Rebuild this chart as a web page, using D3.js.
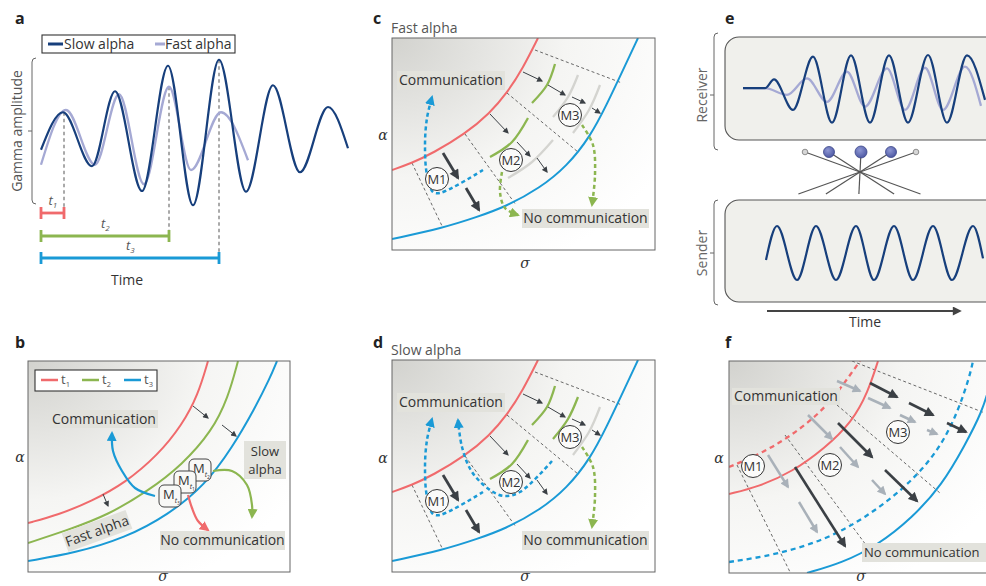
<!DOCTYPE html>
<html><head><meta charset="utf-8">
<script src="https://cdn.jsdelivr.net/npm/d3@7"></script>
<style>
body{margin:0;background:#fff;}
svg{display:block;font-family:"Open Sans",sans-serif;}
</style></head><body>
<svg id="chart" width="986" height="586"></svg>
<script>
// ================= DATA =================
// Panel a : time (ms, arbitrary) vs gamma amplitude (normalised)
const slowAlpha = [[0,-0.25],[22,0.25],[51,-0.47],[74,0.53],[101,-0.80],[127,0.87],[152,-0.99],[178,0.95],[205,-0.81],[232,0.61],[259,-0.55],[287,0.32],[307,-0.23]];
const fastAlpha = [[0,-0.45],[25,0.28],[54,-0.45],[78,0.49],[103,-0.71],[128,0.59],[150,-0.52],[180,0.25],[207,-0.39]];
const tMarkNames = ["1","2","3"];
const tMarkTimes = [23,128,178];
const tMarkPeaks = [0.25,0.59,0.95];

// Panel e : receiver / sender gamma
const recvSlow = [[0,0.04],[22,0.04],[31,0.30],[50,-0.61],[70,0.98],[89,-0.99],[108,1.02],[127,-0.99],[146,1.02],[165,-0.99],[185,1.03],[204,-0.99],[224,1.02],[242,-0.31]];
const recvFast = [[0,0.04],[22,0.04],[44,-0.16],[64,0.33],[84,-0.37],[104,0.53],[122,-0.51],[144,0.63],[162,-0.61],[182,0.65],[200,-0.61],[222,0.68],[238,-0.49]];
const sender = [[23,-0.26],[34,1],[54,-1],[73,1],[93,-1],[113,1],[131,-1],[151,1],[170,-1],[190,1],[209,-1],[230,1],[240,-0.2]];
const synOffset = [-55,-31,1,31,56];
const synRadius = [2.8,5.5,6,5.5,2.8];

// Panel b : (sigma, alpha) boundaries at t1,t2,t3
const bT1 = [[0,49],[30,57],[64,71],[97,89],[130,117],[154,147],[170,177],[180,211]];
const bT2 = [[0,29],[40,42],[80,57],[120,81],[154,107],[184,141],[200,174],[210,211]];
const bT3 = [[0,11],[47,19],[97,34],[140,57],[177,87],[204,124],[227,164],[242,194],[249,211]];
const bSmallArrows = [[[165,166],[180,154]],[[194,147],[208,136]],[[75,78],[80,66]]];
const bCommArrow = [[127,76],[107,84],[94,101],[85,121],[84,139]];
const bNoCommArrow = [[160,77],[164,64],[170,51],[180,42]];
const bSlowArrow = [[185,101],[204,101],[219,87],[224,67],[224,55]];
const bMemSub = ["2","1","3"];
const bMemPos = [[172,102],[157,90],[142,76]];

// Panels c/d : (sigma, alpha)
const cRed = [[0,80],[20,87],[41,97],[73,116],[98,137],[115,157],[131,182],[146,212]];
const cBlue = [[0,11],[51,22],[85,33],[113,43],[148,62],[175,84],[198,113],[215,146],[231,180],[246,212]];
const cDashed = [[[20,87],[51,22]],[[73,116],[124,45]],[[115,157],[186,98]],[[143,200],[230,167]]];
const cThickArrows = [[[51,97],[66,72]],[[74,62],[87,40]]];
const cThinArrows = [[[98,136],[116,117]],[[125,108],[138,94]],[[145,92],[155,78]],[[131,178],[150,169]],[[156,165],[173,155]],[[180,153],[193,147]],[[200,142],[208,137]]];
const arcA1 = [[98,93],[120,108],[136,132]];
const arcA2 = [[140,147],[155,165],[163,186]];
const arcG1 = [[116,72],[140,88],[161,110]];
const arcG2 = [[161,133],[176,153],[186,175]];
const arcG3 = [[181,117],[197,140],[208,165]];
const cArcs = [arcA1,arcA2,arcG1,arcG2,arcG3];
const cArcColors = ["green","green","grey","grey","grey"];
const dArcs = [arcA1,arcA2,arcG2,arcG3];
const dArcColors = ["green","green","green","grey"];
const memNames = ["M1","M2","M3"];
const cMemPos = [[45,71],[119,90],[178,135]];
const cBlueM1 = [[91,80],[48,57],[41,58],[35,75],[33,105],[35,132],[40,153]];
const dBlueM2 = [[160,111],[128,80],[112,76],[98,82],[80,100],[70,125],[66,152]];
const cGreenM2 = [[110,78],[108,58],[113,42],[126,35]];
const cGreenM3 = [[190,125],[201,105],[203,75],[200,45]];

// Panel f : (sigma, alpha)
const fRedDash = [[0,106],[29,118],[59,135],[89,158],[109,181],[126,205],[131,212]];
const fRed = [[0,79],[29,86],[63,101],[96,125],[123,151],[139,181],[149,212]];
const fBlueDash = [[0,11],[46,18],[96,33],[136,55],[176,85],[209,121],[229,161],[241,198],[244,212]];
const fBlue = [[78,0],[113,10],[149,28],[183,55],[213,88],[236,128],[253,161],[261,188],[266,212]];
const fDashed = [[[8,108],[61,1]],[[56,138],[137,28]],[[108,168],[211,80]],[[123,212],[256,160]]];
const fDarkArrows = [[[66,106],[116,27]],[[109,150],[143,116]],[[156,103],[188,72]],[[141,190],[168,176]],[[180,170],[204,158]],[[218,150],[237,141]]];
const fGreyArrows = [[[39,118],[59,86]],[[70,71],[88,41]],[[79,158],[103,134]],[[111,126],[129,106]],[[143,93],[156,79]],[[108,192],[131,182]],[[139,175],[161,165]],[[171,158],[186,151]],[[198,143],[208,139]]];
const fMemPos = [[24,107],[101,108],[169,141]];

// ================= DRAWING =================
const C = {navy:"#173f7c", lav:"#a5a9d4", red:"#f06a6c", green:"#8cb650", blue:"#1a9ad6",
  dark:"#3b4045", grey:"#a9b1b9", arcGrey:"#d4d4d0", text:"#333", label:"#e2e2dc", soft:"#555"};
const FS = 14;
const svg = d3.select("#chart");
const defs = svg.append("defs");

function marker(id, color, w, h){
  defs.append("marker").attr("id",id).attr("viewBox","0 0 10 10").attr("refX",8).attr("refY",5)
    .attr("markerWidth",w).attr("markerHeight",h).attr("markerUnits","userSpaceOnUse").attr("orient","auto")
    .append("path").attr("d","M0,0L10,5L0,10z").attr("fill",color);
}
marker("mDarkS", C.dark, 7, 6);
marker("mDarkL", C.dark, 11, 10);
marker("mGrey", C.grey, 10, 9);
marker("mBlue", C.blue, 10, 10);
marker("mGreen", C.green, 10, 10);
marker("mRed", C.red, 10, 10);
marker("mTime", "#444", 11, 9);

const rg = defs.append("radialGradient").attr("id","bg").attr("cx",0).attr("cy",0).attr("r",1.2).attr("fx",0).attr("fy",0);
rg.append("stop").attr("offset",0).attr("stop-color","#d2d2ce");
rg.append("stop").attr("offset",0.55).attr("stop-color","#f5f5f3");
rg.append("stop").attr("offset",1).attr("stop-color","#ffffff");
const ballG = defs.append("radialGradient").attr("id","ball").attr("cx",0.4).attr("cy",0.35).attr("r",0.7);
ballG.append("stop").attr("offset",0).attr("stop-color","#8e97d4");
ballG.append("stop").attr("offset",1).attr("stop-color","#4a55a0");

function letter(x,y,t){
  svg.append("text").attr("x",x).attr("y",y).attr("font-size",16).attr("font-weight",700).attr("fill","#222").text(t);
}
function greek(x,y,t){
  svg.append("text").attr("x",x).attr("y",y).attr("text-anchor","middle").attr("font-family","'DejaVu Serif',serif")
    .attr("font-style","italic").attr("font-size",14).attr("fill","#333").text(t);
}
function bracket(x, y0, y1, ytick){
  svg.append("path").attr("d",`M${x+4},${y0} Q${x},${y0} ${x},${y0+4} L${x},${y1-4} Q${x},${y1} ${x+4},${y1}`)
    .attr("fill","none").attr("stroke","#666").attr("stroke-width",1);
  svg.append("line").attr("x1",x-4).attr("x2",x).attr("y1",ytick).attr("y2",ytick).attr("stroke","#666");
}

function makePanel(x0, yTop, w, h, id){
  const x = d3.scaleLinear().domain([0,w]).range([x0,x0+w]);
  const y = d3.scaleLinear().domain([0,h]).range([yTop+h,yTop]);
  defs.append("clipPath").attr("id",id).append("rect").attr("x",x0).attr("y",yTop).attr("width",w).attr("height",h);
  const g = svg.append("g");
  g.append("rect").attr("x",x0).attr("y",yTop).attr("width",w).attr("height",h).attr("fill","url(#bg)");
  const inner = g.append("g").attr("clip-path",`url(#${id})`);
  const top = g.append("g");
  const line = (curve) => d3.line().x(d=>x(d[0])).y(d=>y(d[1])).curve(curve || d3.curveCatmullRom.alpha(0.5));
  const frame = () => g.append("rect").attr("x",x0).attr("y",yTop).attr("width",w).attr("height",h)
     .attr("fill","none").attr("stroke","#666").attr("stroke-width",1);
  return {x,y,g,inner,top,line,frame};
}
function curve(p, data, color, width, dash){
  p.inner.append("path").attr("d",p.line(d3.curveBasis)(data)).attr("fill","none").attr("stroke",color)
    .attr("stroke-width",width).attr("stroke-dasharray",dash||null);
}
function dashLines(p, segs){
  segs.forEach(s=> p.inner.append("line").attr("x1",p.x(s[0][0])).attr("y1",p.y(s[0][1]))
    .attr("x2",p.x(s[1][0])).attr("y2",p.y(s[1][1])).attr("stroke","#444").attr("stroke-width",0.8).attr("stroke-dasharray","3,2.5"));
}
function arrows(p, segs, color, width, mk){
  segs.forEach(s=> p.top.append("line").attr("x1",p.x(s[0][0])).attr("y1",p.y(s[0][1]))
    .attr("x2",p.x(s[1][0])).attr("y2",p.y(s[1][1])).attr("stroke",color).attr("stroke-width",width)
    .attr("marker-end",`url(#${mk})`));
}
function pathArrow(p, data, color, width, dash, mk){
  p.top.append("path").attr("d",p.line()(data)).attr("fill","none").attr("stroke",color).attr("stroke-width",width)
    .attr("stroke-dasharray",dash||null).attr("marker-end",`url(#${mk})`);
}
function mems(p, pos){
  pos.forEach((c,i)=>{
    p.top.append("circle").attr("cx",p.x(c[0])).attr("cy",p.y(c[1])).attr("r",11.5).attr("fill","#fbfbfa").attr("stroke","#333").attr("stroke-width",1);
    p.top.append("text").attr("x",p.x(c[0])).attr("y",p.y(c[1])).attr("dy","0.36em").attr("text-anchor","middle")
      .attr("font-size",13).attr("fill","#333").text(memNames[i]);
  });
}
function labelBox(p, s, a, lines, align, fs){
  const x0=p.x(s[0]), x1=p.x(s[1]), yT=p.y(a[1]), yB=p.y(a[0]);
  p.top.append("rect").attr("x",x0).attr("y",yT).attr("width",x1-x0).attr("height",yB-yT).attr("fill",C.label);
  const n = lines.length;
  lines.forEach((t,i)=> p.top.append("text").attr("x",align==="start"? x0+2 : (x0+x1)/2).attr("y",(yT+yB)/2 + (i-(n-1)/2)*18).attr("dy","0.35em")
    .attr("text-anchor",align||"middle").attr("font-size",fs||FS).attr("fill",C.text).text(t));
}
const arcColor = {green:C.green, grey:C.arcGrey};

// ---------- Panel a ----------
letter(15,24,"a");
const xa = d3.scaleLinear().domain([0,307]).range([41,348]);
const ya = d3.scaleLinear().domain([-1,1]).range([206,56]);
const lineA = d3.line().x(d=>xa(d[0])).y(d=>ya(d[1])).curve(d3.curveMonotoneX);
bracket(32,58,204,ya(0));
svg.append("text").attr("transform",`translate(22,${ya(0)}) rotate(-90)`).attr("text-anchor","middle")
  .attr("font-size",FS).attr("fill","#555").text("Gamma amplitude");
const barY = [213,236,258];
const tColors = [C.red,C.green,C.blue];
tMarkTimes.forEach((t,i)=>{
  svg.append("line").attr("x1",xa(t)).attr("x2",xa(t)).attr("y1",ya(tMarkPeaks[i])).attr("y2",barY[i])
    .attr("stroke","#555").attr("stroke-width",1).attr("stroke-dasharray","3.5,3");
});
svg.append("path").attr("d",lineA(fastAlpha)).attr("fill","none").attr("stroke",C.lav).attr("stroke-width",2.3);
svg.append("path").attr("d",lineA(slowAlpha)).attr("fill","none").attr("stroke",C.navy).attr("stroke-width",2.2);
tMarkTimes.forEach((t,i)=>{
  const g = svg.append("g").attr("stroke",tColors[i]).attr("stroke-width",2.8);
  g.append("line").attr("x1",xa(0)).attr("x2",xa(t)).attr("y1",barY[i]).attr("y2",barY[i]);
  g.append("line").attr("x1",xa(0)).attr("x2",xa(0)).attr("y1",barY[i]-6).attr("y2",barY[i]+6);
  g.append("line").attr("x1",xa(t)).attr("x2",xa(t)).attr("y1",barY[i]-6).attr("y2",barY[i]+6);
  const tx = svg.append("text").attr("x",(xa(0)+xa(t))/2 - 4).attr("y",barY[i]-8).attr("font-size",13)
    .attr("font-style","italic").attr("fill","#555");
  tx.append("tspan").text("t");
  tx.append("tspan").attr("dy",3).attr("font-size",8).text(tMarkNames[i]);
});
svg.append("text").attr("x",127).attr("y",285).attr("text-anchor","middle").attr("font-size",FS).attr("fill","#333").text("Time");
// legend a
svg.append("rect").attr("x",42).attr("y",35).attr("width",193).attr("height",18).attr("fill","#fff").attr("stroke","#333").attr("stroke-width",1.1);
svg.append("line").attr("x1",48).attr("x2",63).attr("y1",44).attr("y2",44).attr("stroke",C.navy).attr("stroke-width",3);
svg.append("text").attr("x",64).attr("y",49).attr("font-size",FS).attr("fill","#333").text("Slow alpha");
svg.append("line").attr("x1",155).attr("x2",165).attr("y1",44).attr("y2",44).attr("stroke",C.lav).attr("stroke-width",3);
svg.append("text").attr("x",165).attr("y",49).attr("font-size",FS).attr("fill","#333").text("Fast alpha");

// ---------- Panel e ----------
letter(725,24,"e");
const xe = d3.scaleLinear().domain([0,245]).range([743,988]);
const yr = d3.scaleLinear().domain([-1,1]).range([123,56]);
const ys = d3.scaleLinear().domain([-1,1]).range([280,226]);
svg.append("rect").attr("x",725).attr("y",37).attr("width",275).attr("height",103).attr("rx",14).attr("fill","#f0f0ec").attr("stroke","#555").attr("stroke-width",1.1);
svg.append("rect").attr("x",725).attr("y",200).attr("width",275).attr("height",102).attr("rx",14).attr("fill","#f0f0ec").attr("stroke","#555").attr("stroke-width",1.1);
bracket(714,33,150,95);
bracket(714,200,305,253);
svg.append("text").attr("transform","translate(707,95) rotate(-90)").attr("text-anchor","middle").attr("font-size",FS).attr("fill","#666").text("Receiver");
svg.append("text").attr("transform","translate(707,253) rotate(-90)").attr("text-anchor","middle").attr("font-size",FS).attr("fill","#666").text("Sender");
const lineR = d3.line().x(d=>xe(d[0])).y(d=>yr(d[1])).curve(d3.curveMonotoneX);
const lineS = d3.line().x(d=>xe(d[0])).y(d=>ys(d[1])).curve(d3.curveMonotoneX);
svg.append("path").attr("d",lineR(recvFast)).attr("fill","none").attr("stroke",C.lav).attr("stroke-width",2.3);
svg.append("path").attr("d",lineR(recvSlow)).attr("fill","none").attr("stroke",C.navy).attr("stroke-width",2.2);
svg.append("path").attr("d",lineS(sender)).attr("fill","none").attr("stroke",C.navy).attr("stroke-width",2.2);
// synapse fan
const synC = [860,172];
synOffset.forEach((o,i)=>{
  svg.append("line").attr("x1",synC[0]+o).attr("y1",152).attr("x2",synC[0]-o*1.1).attr("y2",194)
    .attr("stroke","#555").attr("stroke-width",1.2);
});
synOffset.forEach((o,i)=>{
  const big = synRadius[i] > 4;
  svg.append("circle").attr("cx",synC[0]+o).attr("cy",152).attr("r",synRadius[i])
    .attr("fill",big?"url(#ball)":"#d6d6d6").attr("stroke",big?"#3a4588":"#777").attr("stroke-width",0.8);
});
svg.append("line").attr("x1",767).attr("x2",960).attr("y1",311).attr("y2",311).attr("stroke","#444").attr("stroke-width",2).attr("marker-end","url(#mTime)");
svg.append("text").attr("x",865).attr("y",327).attr("text-anchor","middle").attr("font-size",FS).attr("fill","#333").text("Time");

// ---------- Panel b ----------
letter(15,348,"b");
const pb = makePanel(28,361,262,211,"clipB");
curve(pb,bT1,C.red,2);
curve(pb,bT2,C.green,2);
curve(pb,bT3,C.blue,2);
arrows(pb,bSmallArrows,C.dark,1,"mDarkS");
pathArrow(pb,bCommArrow,C.blue,2.2,null,"mBlue");
pathArrow(pb,bNoCommArrow,C.red,2.2,null,"mRed");
pathArrow(pb,bSlowArrow,C.green,2.2,null,"mGreen");
labelBox(pb,[22,130],[144,162],["Communication"]);
labelBox(pb,[216,258],[93,131],["Slow","alpha"],null,13);
labelBox(pb,[132,257],[22,41],["No communication"]);
{
  const fg = pb.top.append("g").attr("transform",`translate(${pb.x(69)},${pb.y(41)}) rotate(-20)`);
  fg.append("rect").attr("x",-34).attr("y",-10).attr("width",68).attr("height",20).attr("fill",C.label);
  fg.append("text").attr("text-anchor","middle").attr("dy","0.35em").attr("font-size",FS).attr("fill",C.text).text("Fast alpha");
}
bMemPos.forEach((c,i)=>{
  const gx = pb.x(c[0]), gy = pb.y(c[1]);
  pb.top.append("rect").attr("x",gx-11).attr("y",gy-11).attr("width",22).attr("height",22).attr("rx",5)
    .attr("fill","#f8f8f6").attr("stroke","#444").attr("stroke-width",1);
  const t = pb.top.append("text").attr("x",gx-7).attr("y",gy+3).attr("font-size",13).attr("fill","#333");
  t.append("tspan").text("M");
  t.append("tspan").attr("dy",4).attr("font-size",7).attr("font-style","italic").text("t");
  t.append("tspan").attr("dy",2).attr("font-size",5).text(bMemSub[i]);
});
pb.frame();
// legend b
svg.append("rect").attr("x",35).attr("y",370).attr("width",122).attr("height",21).attr("fill","#fff").attr("stroke","#333").attr("stroke-width",1.1);
tMarkNames.forEach((n,i)=>{
  const lx = [41,82,124][i];
  svg.append("line").attr("x1",lx).attr("x2",lx+17).attr("y1",380).attr("y2",380).attr("stroke",tColors[i]).attr("stroke-width",2.5);
  const t = svg.append("text").attr("x",lx+20).attr("y",384).attr("font-size",13).attr("fill","#555");
  t.append("tspan").text("t");
  t.append("tspan").attr("dy",3).attr("font-size",7.5).text(n);
});
greek(20,462,"α");
greek(163,581,"σ");

// ---------- Panels c & d ----------
function drawCD(p, arcs, arcCols, bluePaths, greenPaths){
  dashLines(p,cDashed);
  curve(p,cRed,C.red,2);
  curve(p,cBlue,C.blue,2);
  arcs.forEach((a,i)=> p.inner.append("path").attr("d",p.line(d3.curveNatural)(a)).attr("fill","none")
      .attr("stroke",arcColor[arcCols[i]]).attr("stroke-width",2.3));
  arrows(p,cThinArrows,C.dark,1,"mDarkS");
  arrows(p,cThickArrows,C.dark,2.8,"mDarkL");
  bluePaths.forEach(bp=> pathArrow(p,bp,C.blue,2.5,"4,3","mBlue"));
  greenPaths.forEach(gp=> pathArrow(p,gp,C.green,2.5,"4,3","mGreen"));
  mems(p,cMemPos);
  labelBox(p,[5,113],[160,179],["Communication"]);
  labelBox(p,[130,257],[22,41],["No communication"]);
  p.frame();
}
letter(373,24,"c");
svg.append("text").attr("x",391).attr("y",33).attr("font-size",FS).attr("fill","#555").text("Fast alpha");
const pc = makePanel(392,38,263,212,"clipC");
drawCD(pc,cArcs,cArcColors,[cBlueM1],[cGreenM2,cGreenM3]);
greek(383,140,"α");
greek(525,268,"σ");

letter(373,348,"d");
svg.append("text").attr("x",391).attr("y",355).attr("font-size",FS).attr("fill","#555").text("Slow alpha");
const pd = makePanel(392,360,263,212,"clipD");
drawCD(pd,dArcs,dArcColors,[cBlueM1,dBlueM2],[cGreenM3]);
greek(383,463,"α");
greek(525,581,"σ");

// ---------- Panel f ----------
letter(725,348,"f");
const pf = makePanel(729,361,265,212,"clipF");
dashLines(pf,fDashed);
curve(pf,fRedDash,C.red,2.3,"5,4");
curve(pf,fRed,C.red,2);
curve(pf,fBlueDash,C.blue,2.3,"5,4");
curve(pf,fBlue,C.blue,2);
arrows(pf,fGreyArrows,C.grey,2.5,"mGrey");
arrows(pf,fDarkArrows,C.dark,2.6,"mDarkL");
mems(pf,fMemPos);
labelBox(pf,[3,111],[168,185],["Communication"]);
labelBox(pf,[133,257],[11,30],["No communication"],"start",13);
pf.frame();
greek(719,463,"α");
greek(861,581,"σ");
</script>
</body></html>
